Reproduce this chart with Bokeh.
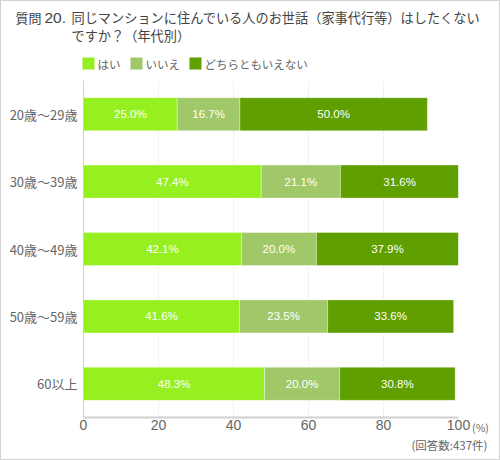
from bokeh.plotting import figure
from bokeh.models import ColumnDataSource, FactorRange, Range1d, FixedTicker
from bokeh.layouts import column, row
from bokeh.core.properties import value
from bokeh.embed import file_html
from bokeh.resources import INLINE

categories = ["20歳〜29歳", "30歳〜39歳", "40歳〜49歳", "50歳〜59歳", "60以上"]
series_names = ["はい", "いいえ", "どちらともいえない"]
yes_vals = [25.0, 47.4, 42.1, 41.6, 48.3]
no_vals = [16.7, 21.1, 20.0, 23.5, 20.0]
neither_vals = [50.0, 31.6, 37.9, 33.6, 30.8]
x_ticks = [0, 20, 40, 60, 80, 100]
title_q = "質問"
title_no = "20."
title_l1 = "同じマンションに住んでいる人のお世話（家事代行等）はしたくない"
title_l2 = "ですか？（年代別）"
unit_text = "(%)"
note_text = "(回答数:437件)"
colors = ["#96ef1e", "#a1c868", "#5fa000"]

FONT = "Noto Sans CJK JP"
NUM_FONT = "Liberation Sans"


def blank(w, h, **kw):
    f = figure(width=w, height=h, output_backend="svg", toolbar_location=None,
               x_range=Range1d(0, w), y_range=Range1d(h, 0),
               min_border=0, min_border_left=0, min_border_right=0,
               min_border_top=kw.get("top", 0), min_border_bottom=kw.get("bottom", 0))
    f.grid.visible = False
    f.outline_line_color = None
    f.background_fill_color = "white"
    f.border_fill_color = "white"
    return f


def txt(f, x, y, t, size, color, align="left", font=FONT):
    f.text(x=[x], y=[y], text=[t], text_font=value(font), text_font_size=size,
           text_color=color, text_align=align, text_baseline="middle")


W = 498

# ---------- header ----------
head = blank(W, 77)
head.axis.visible = False
txt(head, 14, 16, title_q, "13px", "#444444")
txt(head, 43, 16, title_no, "15.5px", "#444444", font=NUM_FONT)
txt(head, 70, 16, title_l1, "13.2px", "#444444")
txt(head, 70, 33.5, title_l2, "13.2px", "#444444")
leg_sq_x = [87, 135, 194]
for i, (nm, col) in enumerate(zip(series_names, colors)):
    head.rect(x=[leg_sq_x[i]], y=[62], width=12, height=12, fill_color=col, line_color=None)
    txt(head, leg_sq_x[i] + 9, 62, nm, "11.5px", "#666666")

# ---------- main chart ----------
src = ColumnDataSource(dict(cat=categories, yes=yes_vals, no=no_vals, neither=neither_vals))
MW = 470
MH = 359
p = figure(
    width=MW, height=MH, output_backend="svg", toolbar_location=None,
    y_range=FactorRange(factors=list(reversed(categories))),
    x_range=Range1d(0, 100),
    min_border_left=82, min_border_right=MW - 457, min_border_top=2, min_border_bottom=18,
)
p.outline_line_color = None
p.background_fill_color = "white"
p.border_fill_color = "white"

p.hbar_stack(["yes", "no", "neither"], y="cat", height=0.49, color=colors,
             line_color="#ffffff", line_alpha=0.35, line_width=1, source=src)

lx, ly, lt = [], [], []
for c, a, b, d in zip(categories, yes_vals, no_vals, neither_vals):
    start = 0.0
    for v in (a, b, d):
        lx.append(start + v / 2)
        ly.append(c)
        lt.append(f"{v:.1f}%")
        start += v
p.text(x=lx, y=ly, text=lt, text_align="center", text_baseline="middle",
       text_color="white", text_font=value(NUM_FONT), text_font_size="11.5px")

p.xaxis.ticker = FixedTicker(ticks=x_ticks)
p.xaxis.major_tick_line_color = None
p.xaxis.major_tick_out = 0
p.xaxis.major_tick_in = 0
p.xaxis.minor_tick_line_color = None
p.xaxis.axis_line_color = "#d0d0d0"
p.xaxis.axis_line_width = 2
p.xaxis.major_label_text_font = NUM_FONT
p.xaxis.major_label_text_font_size = "14px"
p.xaxis.major_label_text_color = "#666666"
p.xaxis.major_label_standoff = 2

p.yaxis.major_tick_line_color = None
p.yaxis.major_tick_out = 0
p.yaxis.major_tick_in = 0
p.yaxis.minor_tick_line_color = None
p.yaxis.axis_line_color = "#d0d0d0"
p.yaxis.axis_line_width = 1
p.yaxis.major_label_text_font = FONT
p.yaxis.major_label_text_font_size = "13px"
p.yaxis.major_label_text_color = "#666666"
p.yaxis.major_label_standoff = 6

p.ygrid.grid_line_color = None
p.xgrid.grid_line_color = "#e4e4e4"
p.xgrid.grid_line_dash = "2 2"

# right strip: unit label as an axis label below the frame
SW = W - MW
strip = blank(SW, MH, top=2, bottom=18)
strip.yaxis.visible = False
strip.xaxis.ticker = FixedTicker(ticks=[9])
strip.xaxis.major_label_overrides = {9: unit_text}
strip.xaxis.axis_line_color = None
strip.xaxis.major_tick_line_color = None
strip.xaxis.minor_tick_line_color = None
strip.xaxis.major_tick_out = 0
strip.xaxis.major_tick_in = 0
strip.xaxis.major_label_text_font = FONT
strip.xaxis.major_label_text_font_size = "10.5px"
strip.xaxis.major_label_text_color = "#666666"
strip.xaxis.major_label_standoff = 2

# ---------- footer ----------
foot = blank(W, 22)
foot.axis.visible = False
txt(foot, 486, 7, note_text, "11.5px", "#666666", align="right")

layout = column(head, row(p, strip), foot,
                styles={"border": "1px solid #d2d2d2", "background-color": "white"})
open("out.html", "w").write(file_html(layout, INLINE))
